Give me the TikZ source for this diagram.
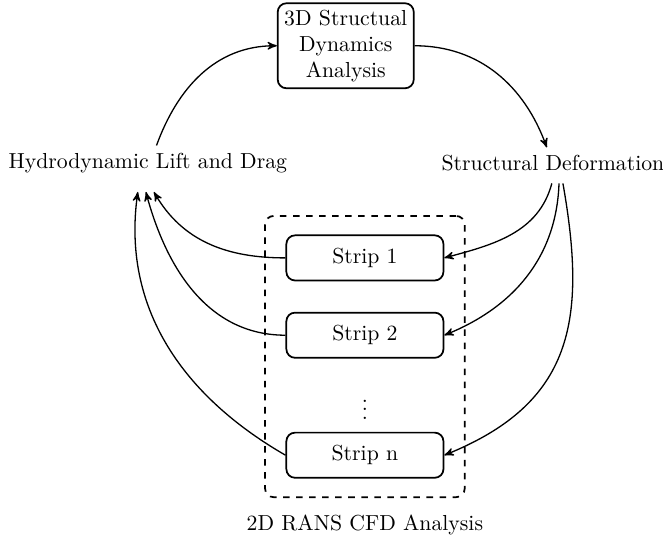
\documentclass[tikz,border=0pt]{standalone}
\usepackage{amsmath}
\usepackage{amssymb}
\usepackage{tikz}
\usetikzlibrary{arrows,positioning,fit}

\begin{document}
\begin{tikzpicture}[auto, node distance=1.25cm,semithick,>=stealth']
\tikzstyle{block}=[draw,thick,rounded corners=4pt,align=center,inner sep=3pt]
\tikzstyle{strip}=[draw,thick,rounded corners=4pt,minimum width=2.54cm,minimum height=0.73cm]

\useasboundingbox (0,0) rectangle (10.72,-8.78);

\node[block] (sda) at (5.59,-0.74) {3D Structual\\Dynamics\\Analysis};
\node (hyd) at (2.39,-2.64) {Hydrodynamic Lift and Drag};
\node (def) at (8.94,-2.64) {Structural Deformation};

\node[strip] (s1) at (5.90,-4.17) {Strip 1};
\node[strip] (s2) [below of= s1] {Strip 2};
\node (dots) at (5.90,-6.52) {$\vdots$};
\node[strip] (sn) at (5.90,-7.36) {Strip n};

\node[draw,thick,dashed,rounded corners=4pt,inner xsep=0.33cm,inner ysep=0.3cm,fit=(s1)(sn)] (cfd) {};
\node (cfdlabel) [below=0.14cm of cfd] {2D RANS CFD Analysis};

\path[->]   ([xshift=4pt]hyd.north)     edge[out=70,in=180]     (sda.west)
            (sda.east)                  edge[out=0,in=110]      ([xshift=-2.8pt]def.north)
            ([xshift=-0.5pt,yshift=-2pt]def.south) edge[out=-105,in=15]  (s1.east)
            ([xshift=2.8pt,yshift=-2pt]def.south)  edge[out=-92,in=22]   (s2.east)
            ([xshift=4.6pt,yshift=-2pt]def.south)  edge[out=-80,in=22,looseness=1.2] (sn.east)
            (s1.west)   edge[out=180,in=-60]    ([xshift=2.8pt,yshift=-5pt]hyd.south)
            (s2.west)   edge[out=180,in=-75]    ([xshift=-0.9pt,yshift=-5pt]hyd.south)
            (sn.west)   edge[out=150,in=-98]    ([xshift=-4.6pt,yshift=-5pt]hyd.south);

\end{tikzpicture}
\end{document}
